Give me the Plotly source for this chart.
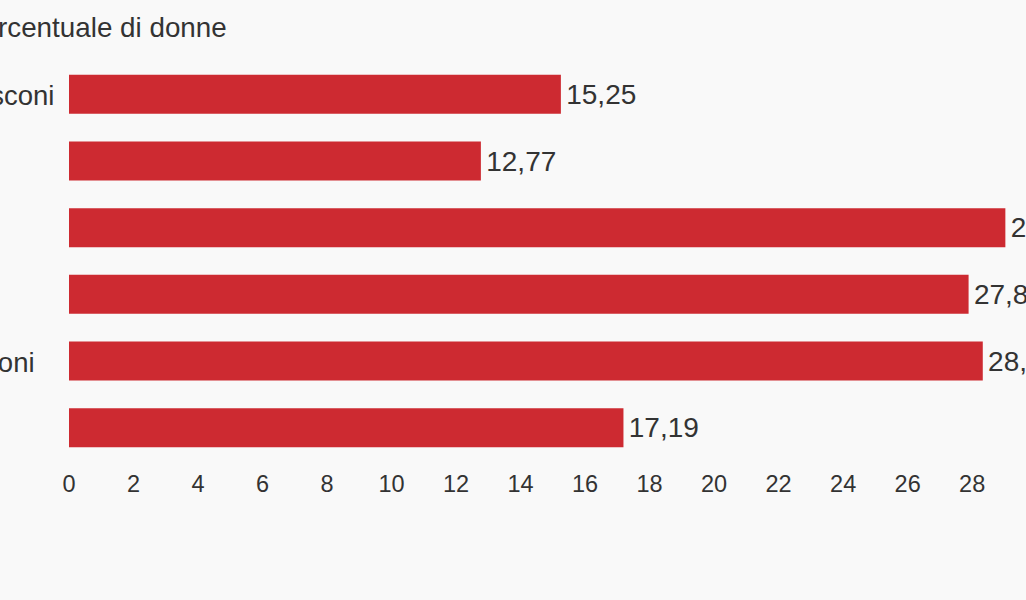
import plotly.graph_objects as go

categorie = ["Berlusconi", "Monti", "Letta", "Renzi", "Gentiloni", "Conte"]
percentuali = [15.25, 12.77, 29.03, 27.89, 28.33, 17.19]
tick_valori = [0, 2, 4, 6, 8, 10, 12, 14, 16, 18, 20, 22, 24, 26, 28]
titolo = "Percentuale di donne"

etichette = ["\u200a" + f"{v:.2f}".replace(".", ",") for v in percentuali]

FONT = "Liberation Sans, Arial, sans-serif"
TXT = "#333333"
BG = "#f9f9f9"

fig = go.Figure(go.Bar(
    x=percentuali,
    y=categorie,
    orientation="h",
    marker=dict(color="#cd2a31", line=dict(width=0)),
    width=0.585,
    text=etichette,
    textposition="outside",
    textfont=dict(family=FONT, size=28, color=TXT),
    cliponaxis=False,
    hoverinfo="skip",
))

for c in categorie:
    fig.add_annotation(
        x=-0.1515, xref="paper", y=c, yref="y", yshift=-1,
        text=c, showarrow=False, xanchor="left", yanchor="middle",
        font=dict(family=FONT, size=27.5, color=TXT),
    )

plot_h = 600 - 61 - 139
fig.add_annotation(
    x=-0.1118, xref="paper", y=1 + (61 - 27) / plot_h, yref="paper",
    text=titolo, showarrow=False, xanchor="left", yanchor="middle",
    font=dict(family=FONT, size=27.8, color=TXT),
)

fig.update_layout(
    width=1026, height=600,
    paper_bgcolor=BG, plot_bgcolor=BG,
    margin=dict(l=69, r=0, t=61, b=139),
    showlegend=False,
    xaxis=dict(
        range=[0, 29.67], tickvals=tick_valori,
        ticktext=[str(t) for t in tick_valori],
        showgrid=False, zeroline=False, showline=False, ticks="",
        tickfont=dict(family=FONT, size=23.5, color=TXT),
        ticklabelstandoff=6,
        fixedrange=True,
    ),
    yaxis=dict(
        autorange="reversed", showticklabels=False, showgrid=False,
        zeroline=False, showline=False, ticks="", fixedrange=True,
    ),
)

fig.write_html(
    "out.html",
    config={"displayModeBar": False},
    post_script="document.body.style.margin='0';document.body.style.background='#f9f9f9';document.body.style.overflow='hidden';",
)
